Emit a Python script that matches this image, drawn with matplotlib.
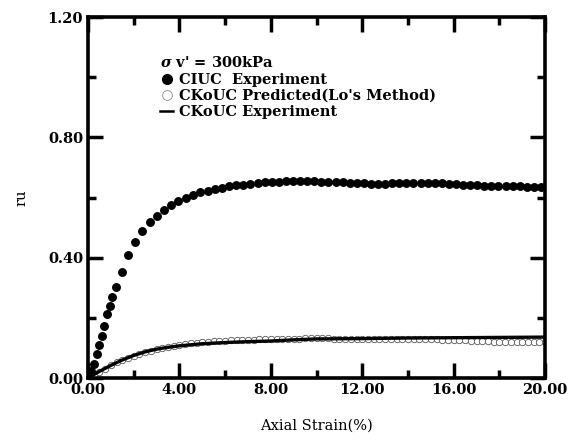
import numpy as np
import matplotlib.pyplot as plt
from matplotlib.lines import Line2D

# CIUC experiment (filled dots)
ciuc_x = [0.00, 0.13, 0.26, 0.38, 0.49, 0.60, 0.71, 0.84, 0.96, 1.06, 1.21, 1.47, 1.76, 2.07,
          2.38, 2.70, 3.02, 3.33, 3.63, 3.95, 4.28, 4.60, 4.90, 5.24, 5.54, 5.86, 6.17, 6.49,
          6.80, 7.11, 7.42, 7.73, 8.04, 8.35, 8.66, 8.97, 9.28, 9.59, 9.90, 10.21, 10.52,
          10.83, 11.14, 11.45, 11.76, 12.07, 12.38, 12.69, 13.00, 13.31, 13.62, 13.93,
          14.24, 14.55, 14.86, 15.17, 15.48, 15.79, 16.10, 16.41, 16.72, 17.03, 17.34,
          17.65, 17.96, 18.27, 18.58, 18.89, 19.20, 19.51, 19.82]
ciuc_y = [0.000, 0.022, 0.046, 0.080, 0.110, 0.141, 0.173, 0.212, 0.239, 0.268, 0.301, 0.351,
          0.408, 0.452, 0.488, 0.517, 0.539, 0.559, 0.575, 0.589, 0.600, 0.609, 0.618, 0.623,
          0.629, 0.633, 0.638, 0.640, 0.642, 0.645, 0.648, 0.650, 0.652, 0.653, 0.654, 0.655,
          0.655, 0.655, 0.654, 0.653, 0.652, 0.651, 0.650, 0.649, 0.648, 0.647, 0.646, 0.646,
          0.646, 0.647, 0.648, 0.648, 0.649, 0.649, 0.649, 0.648, 0.647, 0.645, 0.644, 0.642,
          0.641, 0.640, 0.639, 0.638, 0.638, 0.637, 0.637, 0.637, 0.636, 0.636, 0.636]

# CKoUC predicted (open circles)
pred_x = [0.00, 0.25, 0.50, 0.75, 1.00, 1.25, 1.50, 1.75, 2.00, 2.25, 2.50, 2.75, 3.00,
          3.25, 3.50, 3.75, 4.00, 4.25, 4.50, 4.75, 5.00, 5.25, 5.50, 5.75, 6.00, 6.25,
          6.50, 6.75, 7.00, 7.25, 7.50, 7.75, 8.00, 8.25, 8.50, 8.75, 9.00, 9.25, 9.50,
          9.75, 10.00, 10.25, 10.50, 10.75, 11.00, 11.25, 11.50, 11.75, 12.00, 12.25,
          12.50, 12.75, 13.00, 13.25, 13.50, 13.75, 14.00, 14.25, 14.50, 14.75, 15.00,
          15.25, 15.50, 15.75, 16.00, 16.25, 16.50, 16.75, 17.00, 17.25, 17.50, 17.75,
          18.00, 18.25, 18.50, 18.75, 19.00, 19.25, 19.50, 19.75, 20.00]
pred_y = [0.000, 0.010, 0.020, 0.031, 0.042, 0.052, 0.060, 0.067, 0.074, 0.080, 0.086, 0.091,
          0.096, 0.100, 0.104, 0.107, 0.110, 0.113, 0.115, 0.117, 0.119, 0.121, 0.122, 0.123,
          0.124, 0.125, 0.126, 0.127, 0.128, 0.128, 0.129, 0.129, 0.130, 0.130, 0.131, 0.131,
          0.131, 0.131, 0.132, 0.132, 0.132, 0.132, 0.132, 0.131, 0.131, 0.131, 0.131, 0.131,
          0.130, 0.130, 0.130, 0.130, 0.130, 0.130, 0.130, 0.130, 0.130, 0.129, 0.129, 0.129,
          0.129, 0.129, 0.128, 0.128, 0.127, 0.126, 0.125, 0.124, 0.123, 0.122, 0.122, 0.121,
          0.121, 0.121, 0.120, 0.120, 0.120, 0.120, 0.120, 0.120, 0.120]

# CKoUC experiment (line)
exp_x = [0.0, 0.5, 1.0, 1.5, 2.0, 2.5, 3.0, 3.5, 4.0, 5.0, 6.0, 7.0, 8.0, 9.0, 10.0,
         12.0, 14.0, 16.0, 18.0, 20.0]
exp_y = [0.000, 0.022, 0.042, 0.060, 0.075, 0.087, 0.096, 0.102, 0.107, 0.114, 0.118,
         0.121, 0.123, 0.127, 0.130, 0.131, 0.133, 0.134, 0.135, 0.136]

xticks = [0, 4, 8, 12, 16, 20]
yticks = [0.0, 0.4, 0.8, 1.2]

plt.rcParams['font.family'] = 'DejaVu Serif'
plt.rcParams['font.weight'] = 'bold'
plt.rcParams['mathtext.fontset'] = 'dejavuserif'

fig = plt.figure(figsize=(5.75, 4.44), dpi=100)
ax = fig.add_axes([0.153, 0.1486, 0.795, 0.8131])

ax.plot(exp_x, exp_y, color='black', lw=2.4, zorder=3)
ax.plot(pred_x, pred_y, 'o', ms=4.6, mfc='white', mec='#555555', mew=0.6, zorder=2)
ax.plot(ciuc_x, ciuc_y, 'o', ms=5.4, color='black', zorder=4)

ax.set_xlim(0, 20)
ax.set_ylim(0, 1.2)
ax.set_xticks(xticks)
ax.set_xticklabels(['%.2f' % v for v in xticks])
ax.set_yticks(yticks)
ax.set_yticklabels(['%.2f' % v for v in yticks])
ax.set_xticks([2, 6, 10, 14, 18], minor=True)
ax.set_yticks([0.2, 0.6, 1.0], minor=True)
ax.tick_params(which='both', direction='in', top=True, right=True, labelsize=10.5)
ax.tick_params(which='major', length=11, width=2.5)
ax.tick_params(which='minor', length=6, width=2.5)
for s in ax.spines.values():
    s.set_linewidth(2.6)

ax.set_xlabel('Axial Strain(%)', fontsize=10.5, labelpad=16)
ax.set_ylabel('ru', fontsize=10.5, labelpad=14)

handles = [Line2D([], [], ls='', marker='o', ms=7, color='black'),
           Line2D([], [], ls='', marker='o', ms=7, mfc='white', mec='#888888', mew=0.6),
           Line2D([], [], color='black', lw=1.8)]
labels = ['CIUC  Experiment', "CKoUC Predicted(Lo's Method)", 'CKoUC Experiment']
leg = ax.legend(handles, labels, loc='upper left', bbox_to_anchor=(0.145, 0.91),
                frameon=False, fontsize=10.5, handlelength=0.9, handletextpad=0.4,
                labelspacing=0.12, borderaxespad=0,
                title=r"$\sigma$ v' = 300kPa", title_fontproperties={'size': 10.5, 'weight': 'bold'})
leg._legend_box.align = 'left'
leg._legend_box.sep = 2

fig.savefig('out.png', dpi=100)
